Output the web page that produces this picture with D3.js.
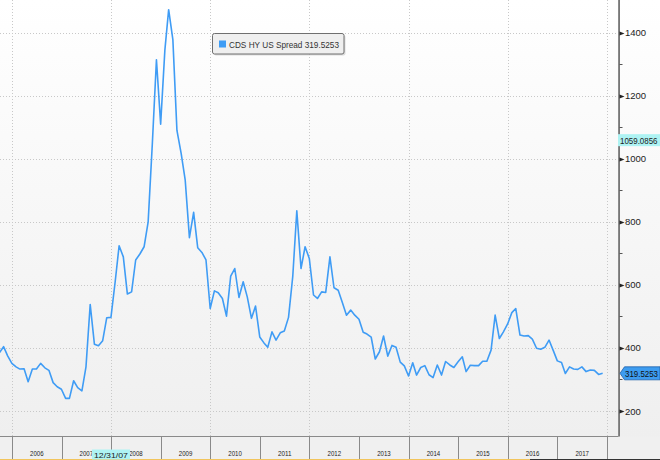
<!DOCTYPE html>
<html>
<head>
<meta charset="utf-8">
<script src="https://cdn.jsdelivr.net/npm/d3@7"></script>
<style>
  html, body { margin: 0; padding: 0; background: #f0f0f0; }
  svg { display: block; }
  text { font-family: "Liberation Sans", Arial, sans-serif; }
</style>
</head>
<body>
<svg id="chart" width="660" height="460"></svg>
<script>
// ---- data (month-end observations, Sep 2005 .. Nov 2017) ----
const seriesName = "CDS HY US Spread";
const firstMonth = [2005, 8]; // year, 0-based month (September 2005)
const spreadValues = [
  385, 404, 375, 351,
  340, 333, 334, 293, 333, 333, 351, 337, 329, 290, 277, 269,
  240, 240, 296, 274, 264, 340, 538, 412, 407, 423, 496, 497,
  610, 724, 689, 571, 578, 679, 698, 721, 800, 1050, 1314, 1110,
  1344, 1473, 1378, 1090, 1017, 932, 750, 830, 718, 703, 679, 525,
  581, 575, 557, 501, 628, 652, 560, 610, 562, 494, 533, 435,
  416, 402, 451, 425, 448, 454, 497, 626, 835, 652, 721, 684,
  568, 557, 578, 576, 689, 591, 583, 543, 504, 520, 504, 491,
  450, 444, 434, 365, 388, 438, 374, 408, 402, 355, 343, 311,
  353, 314, 338, 344, 315, 306, 346, 314, 357, 346, 338, 356,
  372, 325, 345, 344, 344, 358, 358, 393, 504, 430, 451, 476,
  512, 525, 441, 438, 439, 428, 399, 396, 402, 425, 393, 359,
  354, 319, 340, 333, 332, 340, 325, 330, 329, 316, 319.5253
];
const lastValueLabel = "319.5253";
const crosshairValueLabel = "1059.0856";
const crosshairDateLabel = "12/31/07";
const yearLabels = [2006, 2007, 2008, 2009, 2010, 2011, 2012, 2013, 2014, 2015, 2016, 2017];
const yMajorTicks = [200, 400, 600, 800, 1000, 1200, 1400];
const yMinorTicks = [300, 500, 700, 900, 1100, 1300];
const xGridYears = [2006, 2008, 2010, 2012, 2014, 2016, 2018];

// ---- build ----
const data = spreadValues.map((v, i) => ({
  date: new Date(firstMonth[0], firstMonth[1] + i + 1, 0),
  value: v
}));

const svg = d3.select("#chart");
const W = 660, H = 460;
const plotRight = 618.5, plotBottom = 436.5;

const x = d3.scaleTime()
  .domain([new Date(2006, 0, 1), new Date(2018, 0, 1)])
  .range([12, 607]);
const y = d3.scaleLinear()
  .domain([200, 1400])
  .range([411, 32.7]);

// background gradient
const defs = svg.append("defs");
const grad = defs.append("linearGradient").attr("id", "bg").attr("x1", 0).attr("y1", 0).attr("x2", 0).attr("y2", 1);
grad.append("stop").attr("offset", "0%").attr("stop-color", "#ffffff");
grad.append("stop").attr("offset", "100%").attr("stop-color", "#efefef");
svg.append("rect").attr("x", 0).attr("y", 0).attr("width", W).attr("height", plotBottom).attr("fill", "url(#bg)");
svg.append("rect").attr("x", 0).attr("y", plotBottom).attr("width", W).attr("height", H - plotBottom).attr("fill", "#f0f0f0");

const clip = defs.append("clipPath").attr("id", "plotclip");
clip.append("rect").attr("x", 0).attr("y", 0).attr("width", plotRight).attr("height", plotBottom);

// gridlines
const grid = svg.append("g").attr("clip-path", "url(#plotclip)");
grid.selectAll("line.h").data(yMajorTicks).join("line")
  .attr("x1", 0).attr("x2", plotRight)
  .attr("y1", d => Math.round(y(d)) + 0.5).attr("y2", d => Math.round(y(d)) + 0.5)
  .attr("stroke", "#c8c8c8").attr("stroke-dasharray", "1,2");
grid.selectAll("line.v").data(xGridYears).join("line")
  .attr("x1", d => Math.round(x(new Date(d, 0, 1))) + 0.5)
  .attr("x2", d => Math.round(x(new Date(d, 0, 1))) + 0.5)
  .attr("y1", 0).attr("y2", plotBottom)
  .attr("stroke", "#c8c8c8").attr("stroke-dasharray", "1,2");

// series line
const line = d3.line().x(d => x(d.date)).y(d => y(d.value));
svg.append("g").attr("clip-path", "url(#plotclip)")
  .append("path").datum(data)
  .attr("d", line)
  .attr("fill", "none")
  .attr("stroke", "#3f9cf5")
  .attr("stroke-width", 1.6)
  .attr("stroke-linejoin", "round");

// plot border
svg.append("path")
  .attr("d", `M0,${plotBottom}H${plotRight}V0`)
  .attr("fill", "none").attr("stroke", "#8a8a8a").attr("stroke-width", 1);

// right axis
const axisX = 619.5;
svg.append("line").attr("x1", axisX).attr("x2", axisX).attr("y1", 0).attr("y2", plotBottom)
  .attr("stroke", "#777").attr("stroke-width", 1);
const yAx = svg.append("g");
yAx.selectAll("path.major").data(yMajorTicks).join("path")
  .attr("d", d => { const yy = Math.round(y(d)) + 0.5; return `M${axisX},${yy - 2}L${axisX + 5},${yy}L${axisX},${yy + 2}Z`; })
  .attr("fill", "#222");
yAx.selectAll("line.minor").data(yMinorTicks).join("line")
  .attr("x1", axisX).attr("x2", axisX + 3)
  .attr("y1", d => Math.round(y(d)) + 0.5).attr("y2", d => Math.round(y(d)) + 0.5)
  .attr("stroke", "#555");
yAx.selectAll("text").data(yMajorTicks).join("text")
  .attr("x", 625).attr("y", d => y(d) + 3.5)
  .attr("font-size", "9.5px").attr("fill", "#222")
  .text(d => d);

// bottom axis: year separators and labels
const xAx = svg.append("g");
const yearBounds = yearLabels.concat([yearLabels[yearLabels.length - 1] + 1]);
xAx.selectAll("line").data(yearBounds).join("line")
  .attr("x1", d => Math.round(x(new Date(d, 0, 1))) + 0.5)
  .attr("x2", d => Math.round(x(new Date(d, 0, 1))) + 0.5)
  .attr("y1", plotBottom).attr("y2", H)
  .attr("stroke", "#8a8a8a");
xAx.selectAll("text").data(yearLabels).join("text")
  .attr("x", d => (x(new Date(d, 0, 1)) + x(new Date(d + 1, 0, 1))) / 2)
  .attr("y", 456)
  .attr("text-anchor", "middle")
  .attr("font-size", "8px").attr("fill", "#222")
  .attr("textLength", 13.5).attr("lengthAdjust", "spacingAndGlyphs")
  .text(d => d);

// bottom edge strip
svg.append("rect").attr("x", 0).attr("y", 459).attr("width", 530).attr("height", 1).attr("fill", "#f2c55c");
svg.append("rect").attr("x", 530).attr("y", 459).attr("width", 130).attr("height", 1).attr("fill", "#333");

// crosshair date label
const crossDate = new Date(2007, 11, 31);
const cdx = x(crossDate);
svg.append("rect").attr("x", cdx - 19).attr("y", 449.5).attr("width", 38).attr("height", 10).attr("fill", "#aef3f3");
svg.append("text").attr("x", cdx).attr("y", 457.5).attr("text-anchor", "middle")
  .attr("font-size", "8px").attr("fill", "#222")
  .attr("textLength", 34).attr("lengthAdjust", "spacingAndGlyphs")
  .text(crosshairDateLabel);

// crosshair value label
const cvy = y(+crosshairValueLabel);
svg.append("rect").attr("x", 618).attr("y", cvy - 6).attr("width", 42).attr("height", 12).attr("fill", "#aef3f3");
svg.append("text").attr("x", 620).attr("y", cvy + 3.5)
  .attr("font-size", "9.5px").attr("fill", "#222")
  .attr("textLength", 37.5).attr("lengthAdjust", "spacingAndGlyphs")
  .text(crosshairValueLabel);

// last value label
const lvy = y(spreadValues[spreadValues.length - 1]);
svg.append("path")
  .attr("d", `M620,${lvy}L624.5,${lvy - 6.5}H660V${lvy + 6.5}H624.5Z`)
  .attr("fill", "#3d9cf0").attr("stroke", "#1f5fa8").attr("stroke-width", 0.8);
svg.append("text").attr("x", 625).attr("y", lvy + 3.5)
  .attr("font-size", "9.5px").attr("fill", "#111")
  .attr("textLength", 33).attr("lengthAdjust", "spacingAndGlyphs")
  .text(lastValueLabel);

// legend
const lg = svg.append("g");
lg.append("rect").attr("x", 214).attr("y", 35).attr("width", 131.5).attr("height", 20.5)
  .attr("rx", 2).attr("fill", "#bbb").attr("opacity", 0.5);
lg.append("rect").attr("x", 212.5).attr("y", 33.5).attr("width", 131.5).attr("height", 20.5)
  .attr("rx", 2).attr("fill", "#efefef").attr("stroke", "#6f6f6f").attr("stroke-width", 1);
lg.append("rect").attr("x", 219).attr("y", 40.5).attr("width", 7).attr("height", 7).attr("fill", "#3d9cf5");
lg.append("text").attr("x", 229).attr("y", 47.8)
  .attr("font-size", "9.5px").attr("fill", "#333")
  .attr("textLength", 110).attr("lengthAdjust", "spacingAndGlyphs")
  .text(seriesName + " " + lastValueLabel);
</script>
</body>
</html>
